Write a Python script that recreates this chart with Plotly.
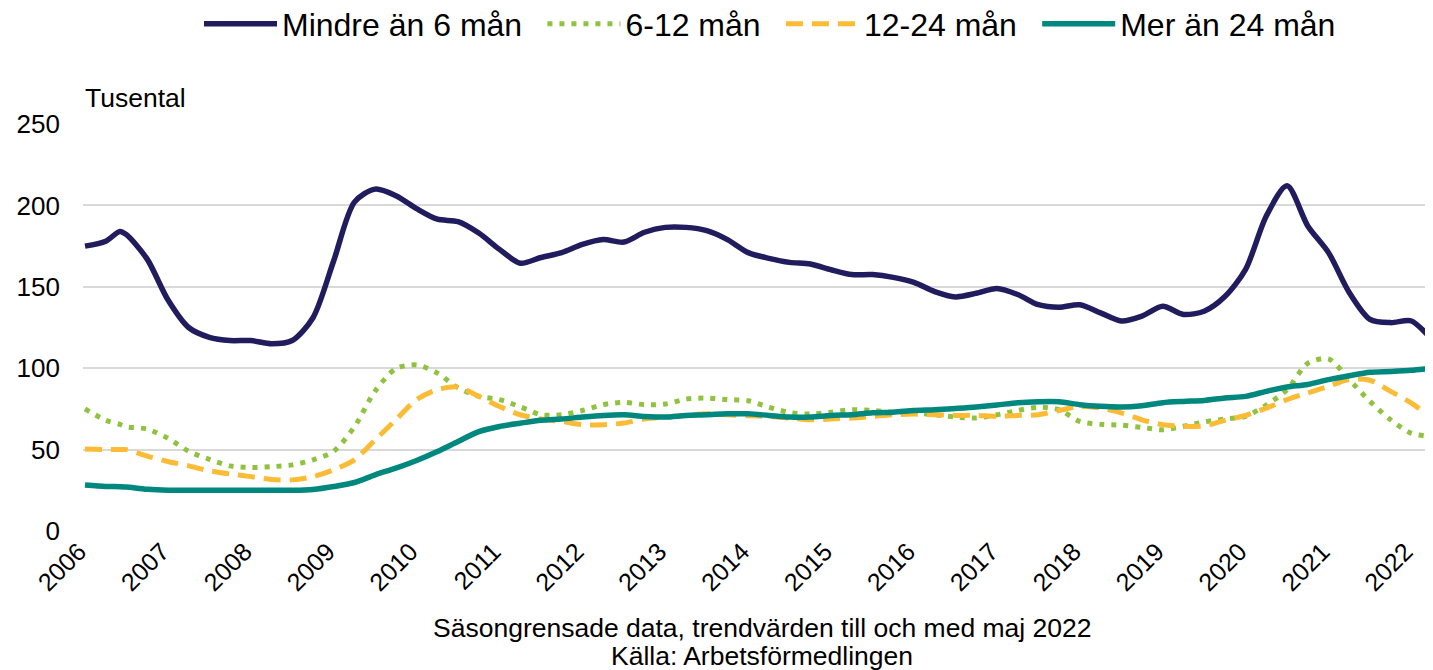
import plotly.graph_objects as go

# Quarterly time points (decimal years) (thousands)
t = [2006.00, 2006.25, 2006.42, 2006.50, 2006.75, 2007.00, 2007.25, 2007.50, 2007.75,
     2008.00, 2008.25, 2008.50, 2008.75, 2009.00, 2009.25, 2009.50, 2009.75,
     2010.00, 2010.25, 2010.50, 2010.75, 2011.00, 2011.25, 2011.50, 2011.75,
     2012.00, 2012.25, 2012.50, 2012.75, 2013.00, 2013.25, 2013.50, 2013.75,
     2014.00, 2014.25, 2014.50, 2014.75, 2015.00, 2015.25, 2015.50, 2015.75,
     2016.00, 2016.25, 2016.50, 2016.75, 2017.00, 2017.25, 2017.50, 2017.75,
     2018.00, 2018.25, 2018.50, 2018.75, 2019.00, 2019.25, 2019.50, 2019.75,
     2020.00, 2020.25, 2020.50, 2020.75, 2021.00, 2021.25, 2021.50, 2021.75,
     2022.00, 2022.25, 2022.33]

mindre_6 = [175, 178, 184, 182, 167, 142, 125, 119, 117,
            117, 115, 117, 131, 166, 202, 210, 206,
            198, 191.5, 190, 183, 173, 164.5, 168, 171,
            176, 179, 177.5, 183.5, 186.5, 186.5, 184.5, 179,
            171, 167.5, 165, 164, 160.5, 157.5, 157.5, 155.8,
            152.7, 147, 143.8, 146, 149, 145.3, 139, 137.5,
            139, 134, 129, 132, 138, 133, 135, 144,
            160.7, 193.5, 212, 187.4, 171, 146.5, 130, 128,
            129, 118, 116]

m6_12 = [75, 68, 65.5, 64, 62.6, 57, 49, 44, 40,
         39, 39.5, 40.6, 43.7, 49, 64, 86, 99.7,
         102, 97, 88, 82.7, 80.7, 76.3, 71.4, 71.4,
         74, 77.6, 79, 77.6, 78, 81, 81.7, 80.7,
         80, 76, 72.8, 71.8, 73, 74.5, 74, 73,
         72.6, 71.4, 70, 69.4, 71.4, 74, 76, 74.5,
         67.3, 65.5, 65, 63.6, 62.2, 64.3, 67, 68.8,
         70.4, 77.4, 86.8, 103, 105.7, 93, 79.6, 68.3,
         60, 58, 57.5]

m12_24 = [50.3, 50, 50, 50, 46, 42.7, 40, 37, 35,
          33.4, 31.7, 31.4, 33.4, 37.6, 43.7, 56, 68.3,
          80.7, 86.8, 88.5, 82.7, 76.5, 71.4, 68.8, 67.3,
          65.3, 65.3, 66.3, 68.8, 70, 71, 72, 71.4,
          70.8, 70.4, 69.4, 68.3, 68.8, 69.4, 70.4, 71.4,
          71.8, 71.4, 71, 71, 70.4, 71, 71.4, 74,
          76.5, 75.5, 72.6, 68.3, 65.3, 64.4, 64.5, 68,
          71, 75.5, 80.7, 84.8, 88.9, 93, 92.6, 85.8,
          78.6, 69.4, 67]

mer_24 = [28.3, 27.4, 27.2, 27, 25.6, 25, 25, 25, 25,
          25, 25, 25, 25.5, 27.3, 29.8, 34.5, 38.6,
          43.3, 48.8, 55, 61, 64.2, 66.2, 68, 68.8,
          70, 71, 71.4, 70.4, 70, 71, 71.4, 72,
          72, 71, 70, 70, 71, 71.4, 72.6, 73,
          74, 74.5, 75.3, 76.2, 77.4, 78.8, 79.4, 79.4,
          77.6, 76.6, 76.2, 77, 78.8, 79.6, 80.2, 81.7,
          82.7, 85.8, 88.5, 90, 93, 95.4, 97.5, 98,
          98.7, 100, 100.3]

series_names = ["Mindre än 6 mån", "6-12 mån", "12-24 mån", "Mer än 24 mån"]
year_ticks = list(range(2006, 2023))
y_ticks = [0, 50, 100, 150, 200, 250]

GAP = "\u00a0\u2009"
series = [
    (series_names[0] + GAP, mindre_6, "#211c5e", "solid", 5.5),
    (series_names[1] + GAP, m6_12, "#8fc33f", "5px,7px", 5),
    (series_names[2] + GAP, m12_24, "#fcbb35", "17px,9px", 5),
    (series_names[3], mer_24, "#00877e", "solid", 5.5),
]

fig = go.Figure()
for name, vals, color, dash, w in series:
    fig.add_trace(go.Scatter(
        x=t, y=vals, mode="lines", name=name,
        line=dict(color=color, dash=dash, width=w, shape="spline", smoothing=0.8),
    ))

FONT = "Liberation Sans, Arial, sans-serif"
# page body has an 8px margin: figure origin is at page (8, 8)
W, H = 1425, 662
L, T, B = 75, 116, 139
PLOT_H = H - T - B
PLOT_W = W - L

fig.update_layout(
    width=W, height=H,
    margin=dict(l=L, r=0, t=T, b=B, autoexpand=False),
    paper_bgcolor="white", plot_bgcolor="white",
    font=dict(family=FONT, size=26, color="#000000"),
    showlegend=True,
    legend=dict(
        orientation="h", x=(762 - L) / PLOT_W, xanchor="center",
        y=1 + (T - 16) / PLOT_H, yanchor="middle",
        font=dict(size=32, family=FONT), itemwidth=73, traceorder="normal",
        bgcolor="rgba(0,0,0,0)",
    ),
    xaxis=dict(
        range=[2006 - 2 / 82.9, 2006 + (W - 77) / 82.9],
        tickmode="array", tickvals=year_ticks, ticktext=[str(y) for y in year_ticks],
        tickangle=-45, showgrid=False, zeroline=False, showline=False,
        ticks="", tickfont=dict(size=25, family=FONT), automargin=False,
        ticklabelshift=-6,
    ),
    yaxis=dict(
        range=[0, 250], tickmode="array", tickvals=y_ticks,
        showgrid=True, gridcolor="#d9d9d9", gridwidth=1.5,
        zeroline=False, showline=False, ticks="",
        tickfont=dict(size=26, family=FONT), ticklabelstandoff=22, automargin=False,
    ),
    annotations=[
        dict(text="Tusental", xref="paper", yref="paper", x=0.0, y=1 + (T - 90) / PLOT_H,
             xanchor="left", yanchor="middle", showarrow=False,
             font=dict(size=26.5, family=FONT)),
        dict(text="Säsongrensade data, trendvärden till och med maj 2022",
             xref="paper", yref="paper", x=(754 - L) / PLOT_W, y=-(620 - (H - B)) / PLOT_H,
             xanchor="center", yanchor="middle", showarrow=False,
             font=dict(size=26.5, family=FONT)),
        dict(text="Källa: Arbetsförmedlingen",
             xref="paper", yref="paper", x=(754 - L) / PLOT_W, y=-(648 - (H - B)) / PLOT_H,
             xanchor="center", yanchor="middle", showarrow=False,
             font=dict(size=26.5, family=FONT)),
    ],
)

fig.write_html("out.html")
